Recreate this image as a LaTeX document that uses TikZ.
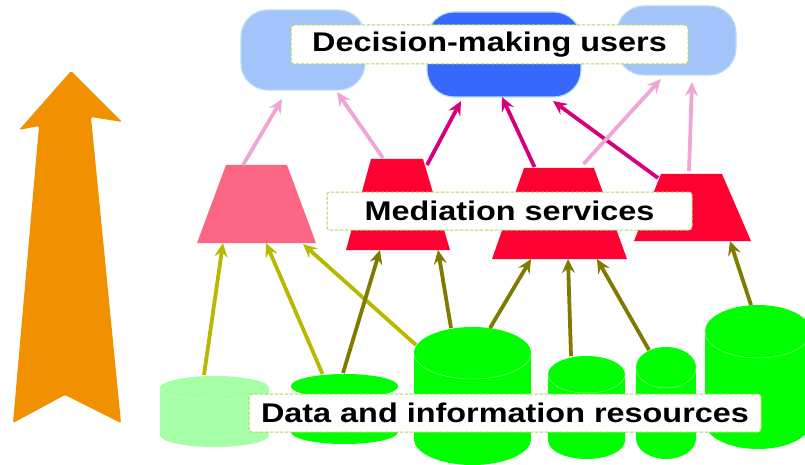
\documentclass[tikz,border=0pt]{standalone}
\usepackage{fontspec}
\setmainfont{Liberation Sans}[BoldFeatures={FakeStretch=1.2}]
\usetikzlibrary{arrows.meta,calc}
\definecolor{bluelt}{HTML}{A2C4FB}
\definecolor{bluedk}{HTML}{3568FB}
\definecolor{blueedge}{HTML}{B5DDEF}
\definecolor{redfull}{HTML}{FF0033}
\definecolor{redlt}{HTML}{FB6684}
\definecolor{greenfull}{HTML}{00FF00}
\definecolor{greenlt}{HTML}{A6FFA6}
\definecolor{pinkln}{HTML}{F0A6D4}
\definecolor{magln}{HTML}{D6007F}
\definecolor{yelln}{HTML}{B8B800}
\definecolor{oliveln}{HTML}{7F7A00}
\definecolor{orangefl}{HTML}{F29100}
\definecolor{dashgr}{HTML}{A8DC50}
\tikzset{
  x=1pt,y=-1pt,
  userbox/.style={rectangle,rounded corners=27pt,draw=blueedge,line width=1.2pt,fill=#1,inner sep=0pt,outer sep=0pt},
  anchorbox/.style={rectangle,inner sep=0pt,outer sep=0pt},
  link/.style={line width=3.8pt,draw=#1,-{Stealth[length=14pt,width=13pt,inset=5pt]}},
  layerlabel/.style={rectangle,draw=dashgr,dash pattern=on 3.5pt off 1.5pt,line width=1pt,fill=white,rounded corners=3pt,
     font=\bfseries\fontsize{27}{29}\selectfont,text=black,inner sep=0pt,anchor=center},
}
% #1 name, #2 top left x, #3 top right x, #4 y top, #5 bottom left x, #6 bottom right x, #7 y bottom, #8 colour
\newcommand{\mediatorshape}[8]{%
  \fill[#8] (#2,#4) -- (#3,#4) -- (#6,#7) -- (#5,#7) -- cycle;
  \pgfmathsetmacro{\wdd}{#6-#5}\pgfmathsetmacro{\htt}{#7-#4}%
  \pgfmathsetmacro{\mxx}{(#5+#6)/2}\pgfmathsetmacro{\myy}{(#4+#7)/2}%
  \node[anchorbox,minimum width=\wdd pt,minimum height=\htt pt] (#1) at (\mxx,\myy) {};
}
% #1 name, #2 xmin, #3 xmax, #4 ytop, #5 yrim, #6 ybottom, #7 colour, #8 side colour, #9 rim colour
\newcommand{\drum}[9]{%
  \pgfmathsetmacro{\cxx}{(#2+#3)/2}\pgfmathsetmacro{\rxx}{(#3-#2)/2}%
  \pgfmathsetmacro{\ryy}{(#5-#4)/2}\pgfmathsetmacro{\cyy}{(#4+#5)/2}%
  \pgfmathsetmacro{\byy}{#6-\ryy}%
  \pgfmathsetmacro{\wdd}{#3-#2}\pgfmathsetmacro{\htt}{#6-#4}\pgfmathsetmacro{\myy}{(#4+#6)/2}%
  \fill[#8] (#2,\cyy) rectangle (#3,\byy);
  \fill[#7] (\cxx,\byy) ellipse [x radius=\rxx pt,y radius=\ryy pt];
  \fill[#7] (\cxx,\cyy) ellipse [x radius=\rxx pt,y radius=\ryy pt];
  \draw[#9,line width=.5pt] (#2,\cyy) arc [start angle=180,end angle=360,x radius=\rxx pt,y radius=\ryy pt];
  \node[anchorbox,minimum width=\wdd pt,minimum height=\htt pt] (#1) at (\cxx,\myy) {};
}
\begin{document}
\begin{tikzpicture}
\useasboundingbox (0,0) rectangle (805,465);
\clip (0,0) rectangle (805,465);
% big arrow
\fill[orangefl,rounded corners=1.5pt] (71,71) -- (122,122) -- (91,117) -- (121,423) -- (65,395) -- (13,423) -- (39,126) -- (19,130) -- cycle;
% users
\node[userbox=bluelt,minimum width=124pt,minimum height=80pt] (r1) at (303,50) {};
\node[userbox=bluedk,minimum width=154pt,minimum height=85pt] (r2) at (504,54.5) {};
\node[userbox=bluelt,minimum width=119pt,minimum height=69pt] (r3) at (676.5,40.5) {};
% mediators
\mediatorshape{t1}{226}{287}{165}{197}{316}{243}{redlt}
\mediatorshape{t2}{371}{423}{159}{346}{450}{250}{redfull}
\mediatorshape{t3}{524}{594}{168}{492}{627}{259}{redfull}
\mediatorshape{t4}{661}{722}{174}{634}{751}{241}{redfull}
% resources
\drum{c1}{160}{269}{376}{400}{447}{greenlt}{greenlt}{white!25!greenlt}
\drum{c2}{291}{398}{374}{398}{444}{greenfull}{white}{greenfull}
\drum{c3}{414}{531}{327}{379}{465}{greenfull}{greenfull}{white!50!greenfull}
\drum{c4}{548}{625}{356}{393}{459}{greenfull}{greenfull}{white!50!greenfull}
\drum{c5}{636}{696}{347}{388}{459}{greenfull}{greenfull}{white!50!greenfull}
\drum{c6}{705}{811}{305}{358}{449}{greenfull}{greenfull}{white!50!greenfull}
% links to users
\draw[link=pinkln] ($(t1.north)+(-13.5,0)$) -- ($(r1.south)+(-21,9)$);
\draw[link=pinkln] ($(t2.north)+(-15,-1)$) -- ($(r1.south)+(34,2)$);
\draw[link=magln] ($(t2.north)+(29,6)$) -- ($(r2.south)+(-43,4)$);
\draw[link=magln] ($(t3.north)+(-25,-1)$) -- ($(r2.south)+(-2,0)$);
\draw[link=magln] ($(t4.north)+(-34.5,4)$) -- ($(r2.south)+(49,4)$);
\draw[link=pinkln] ($(t3.north)+(24,-4)$) -- ($(r3.south)+(-15.5,4)$);
\draw[link=pinkln] ($(t4.north)+(-3.5,-3)$) -- ($(r3.south)+(15.5,7)$);
% links to mediators
\draw[link=yelln] ($(c1.north)+(-10.5,-1)$) -- ($(t1.south)+(-33.5,0)$);
\draw[link=yelln] ($(c2.north)+(-22,0)$) -- ($(t1.south)+(9.5,0)$);
\draw[link=yelln] ($(c3.north)+(-56.5,18)$) -- ($(t1.south)+(46.5,1)$);
\draw[link=oliveln] ($(c2.north)+(-1.5,-1)$) -- ($(t2.south)+(-18,0)$);
\draw[link=oliveln] ($(c3.north)+(-21.5,1)$) -- ($(t2.south)+(40,0)$);
\draw[link=oliveln] ($(c3.north)+(17.5,1)$) -- ($(t3.south)+(-28.5,0)$);
\draw[link=oliveln] ($(c4.north)+(-15.5,0)$) -- ($(t3.south)+(8.5,0)$);
\draw[link=oliveln] ($(c5.north)+(-17,3)$) -- ($(t3.south)+(37.5,0)$);
\draw[link=oliveln] ($(c6.north)+(-7,0)$) -- ($(t4.south)+(37.5,0)$);
% labels
\node[layerlabel,minimum width=397pt,minimum height=39pt] (lusers) at (489.5,44.5) {Decision-making users};
\node[layerlabel,minimum width=365pt,minimum height=38pt] (lmed) at (509.5,211) {Mediation services};
\node[layerlabel,minimum width=512pt,minimum height=38pt] (ldata) at (505,413) {Data and information resources};
\end{tikzpicture}
\end{document}
